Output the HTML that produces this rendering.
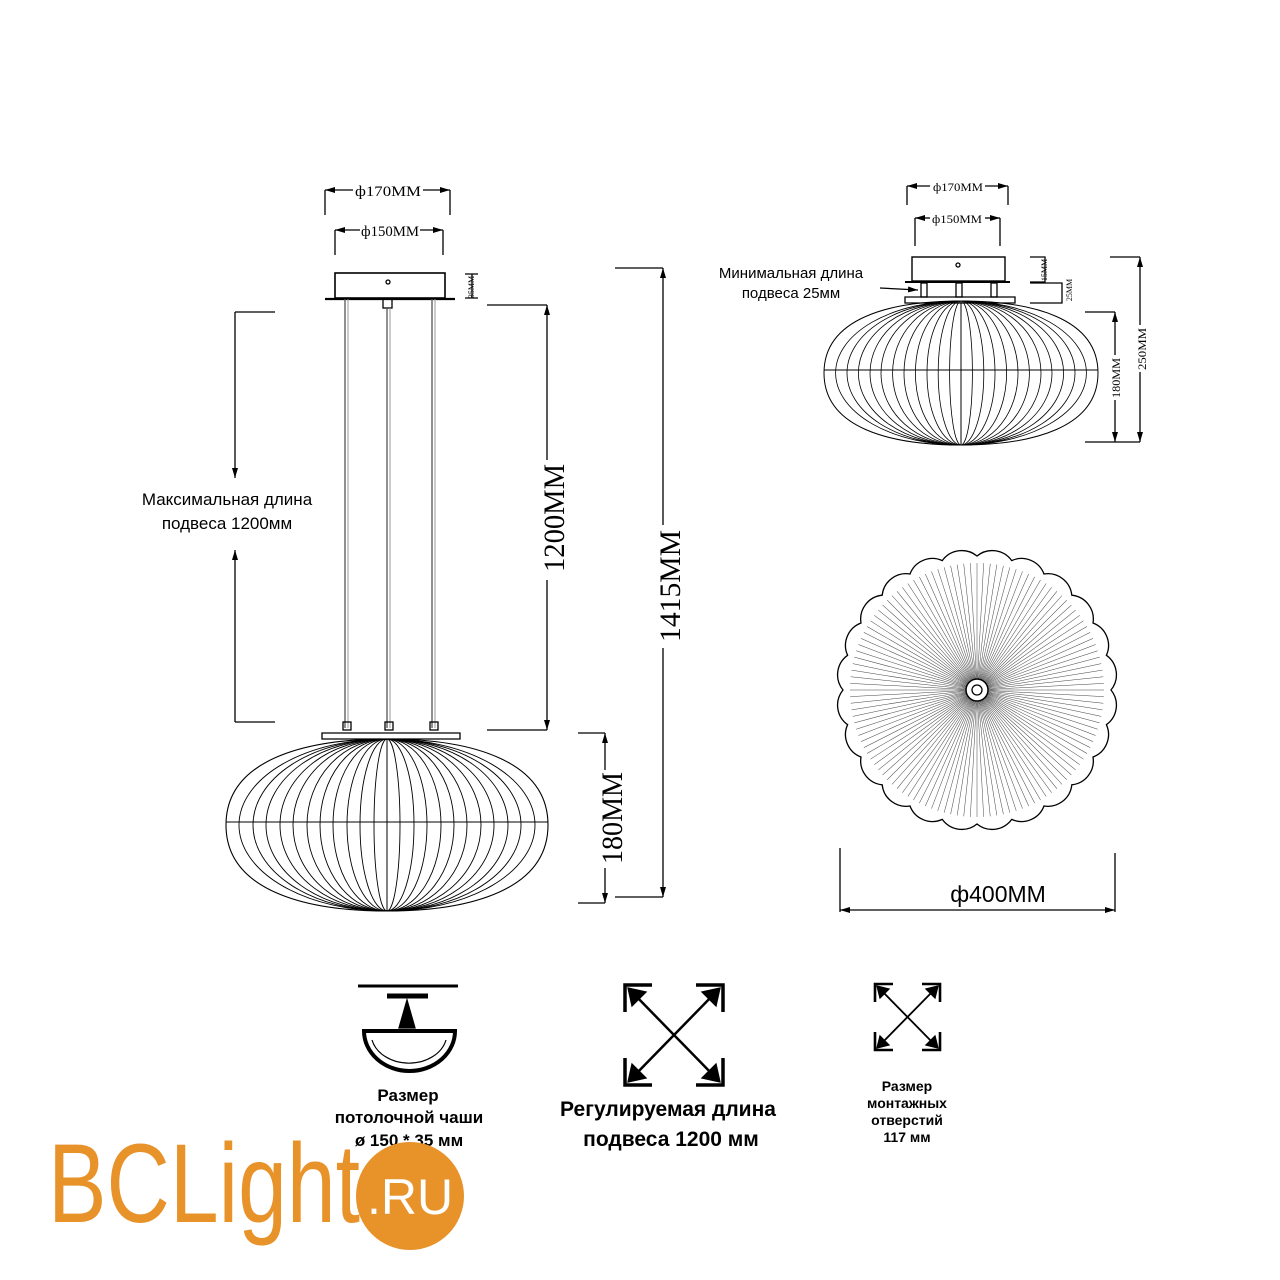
<!DOCTYPE html>
<html><head><meta charset="utf-8"><style>
html,body{margin:0;padding:0;background:#fff}
svg{display:block}
.s{font-family:"Liberation Serif",serif}
.a{font-family:"Liberation Sans",sans-serif}
</style></head><body>
<svg width="1280" height="1280" viewBox="0 0 1280 1280" xmlns="http://www.w3.org/2000/svg" xmlns:xlink="http://www.w3.org/1999/xlink">
<defs>
<marker id="ar" viewBox="0 0 10 6" refX="10" refY="3" markerWidth="10" markerHeight="6" orient="auto-start-reverse" markerUnits="userSpaceOnUse"><path d="M0,0L10,3L0,6z" fill="#000"/></marker>
<g id="r10" stroke="#444" stroke-width="0.5">
<line x1="10" y1="0" x2="127" y2="0"/>
<line x1="10" y1="0" x2="127" y2="0" transform="rotate(3)"/>
<line x1="10" y1="0" x2="127" y2="0" transform="rotate(6)"/>
<line x1="10" y1="0" x2="127" y2="0" transform="rotate(9)"/>
<line x1="10" y1="0" x2="127" y2="0" transform="rotate(12)"/>
<line x1="10" y1="0" x2="127" y2="0" transform="rotate(15)"/>
<line x1="10" y1="0" x2="127" y2="0" transform="rotate(18)"/>
<line x1="10" y1="0" x2="127" y2="0" transform="rotate(21)"/>
<line x1="10" y1="0" x2="127" y2="0" transform="rotate(24)"/>
<line x1="10" y1="0" x2="127" y2="0" transform="rotate(27)"/>
</g>
<g id="ribA" stroke-width="0.9">
<path d="M387,739A13,86 0 0 0 387,911A13,86 0 0 0 387,739"/>
<path d="M387,739A27,86 0 0 0 387,911A27,86 0 0 0 387,739"/>
<path d="M387,739A40,86 0 0 0 387,911A40,86 0 0 0 387,739"/>
<path d="M387,739A54,86 0 0 0 387,911A54,86 0 0 0 387,739"/>
<path d="M387,739A67,86 0 0 0 387,911A67,86 0 0 0 387,739"/>
<path d="M387,739A80,86 0 0 0 387,911A80,86 0 0 0 387,739"/>
<path d="M387,739A94,86 0 0 0 387,911A94,86 0 0 0 387,739"/>
<path d="M387,739A107,86 0 0 0 387,911A107,86 0 0 0 387,739"/>
<path d="M387,739A121,86 0 0 0 387,911A121,86 0 0 0 387,739"/>
<path d="M387,739A134,86 0 0 0 387,911A134,86 0 0 0 387,739"/>
<path d="M387,739A148,86 0 0 0 387,911A148,86 0 0 0 387,739"/>
</g>
<g id="ribB" stroke-width="0.8">
<path d="M961,301A11.4,72 0 0 0 961,445A11.4,72 0 0 0 961,301"/>
<path d="M961,301A22.8,72 0 0 0 961,445A22.8,72 0 0 0 961,301"/>
<path d="M961,301A34,72 0 0 0 961,445A34,72 0 0 0 961,301"/>
<path d="M961,301A45.6,72 0 0 0 961,445A45.6,72 0 0 0 961,301"/>
<path d="M961,301A57,72 0 0 0 961,445A57,72 0 0 0 961,301"/>
<path d="M961,301A68.4,72 0 0 0 961,445A68.4,72 0 0 0 961,301"/>
<path d="M961,301A80,72 0 0 0 961,445A80,72 0 0 0 961,301"/>
<path d="M961,301A91,72 0 0 0 961,445A91,72 0 0 0 961,301"/>
<path d="M961,301A102.6,72 0 0 0 961,445A102.6,72 0 0 0 961,301"/>
<path d="M961,301A114,72 0 0 0 961,445A114,72 0 0 0 961,301"/>
<path d="M961,301A125.4,72 0 0 0 961,445A125.4,72 0 0 0 961,301"/>
</g>
</defs>
<g stroke="#000" fill="none" stroke-width="1.3">
<path d="M325,215V190M450,215V190M335,255V230M443,255V230"/>
<line x1="325" y1="190" x2="353" y2="190" marker-start="url(#ar)"/>
<line x1="423" y1="190" x2="450" y2="190" marker-end="url(#ar)"/>
<line x1="335" y1="230" x2="360" y2="230" marker-start="url(#ar)"/>
<line x1="420" y1="230" x2="443" y2="230" marker-end="url(#ar)"/>
<rect x="335" y="273" width="110" height="25" stroke-width="1.6"/>
<path d="M325,299H455" stroke-width="2.2"/>
<circle cx="388" cy="282" r="2"/>
<rect x="383" y="299" width="9" height="9"/>
<path d="M345,299V728M387,308V728M432,299V728" stroke="#555"/>
<path d="M348,299V728M390,308V728M435,299V728" stroke="#999" stroke-width="1"/>
<rect x="343" y="722" width="8" height="8"/><rect x="385" y="722" width="8" height="8"/><rect x="430" y="722" width="8" height="8"/>
<path d="M322,739H460V733H322z"/>
<path d="M465,274H478M465,298H478M472,274V298"/>
<!-- pendant shade -->
<use xlink:href="#ribA"/>
<path d="M387,739C470,739 548,760 548,825C548,890 470,911 387,911C304,911 226,890 226,825C226,760 304,739 387,739z" stroke-width="1.1"/>
<path d="M226,822H548M387,739V911" stroke-width="1"/>
<!-- left dims -->
<path d="M235,312H275M235,722H275"/>
<line x1="235" y1="312" x2="235" y2="478" marker-end="url(#ar)"/>
<line x1="235" y1="722" x2="235" y2="550" marker-end="url(#ar)"/>
<path d="M487,305H547M487,730H547"/>
<line x1="547" y1="305" x2="547" y2="460" marker-start="url(#ar)"/>
<line x1="547" y1="580" x2="547" y2="730" marker-end="url(#ar)"/>
<path d="M615,268H663M615,897H663"/>
<line x1="663" y1="268" x2="663" y2="525" marker-start="url(#ar)"/>
<line x1="663" y1="648" x2="663" y2="897" marker-end="url(#ar)"/>
<path d="M578,733H605M578,903H605"/>
<line x1="605" y1="733" x2="605" y2="770" marker-start="url(#ar)"/>
<line x1="605" y1="868" x2="605" y2="903" marker-end="url(#ar)"/>
<!-- right top dims -->
<path d="M907,205V186M1008,205V186M915,246V218M1000,246V218"/>
<line x1="907" y1="186" x2="930" y2="186" marker-start="url(#ar)"/>
<line x1="985" y1="186" x2="1008" y2="186" marker-end="url(#ar)"/>
<line x1="915" y1="218" x2="930" y2="218" marker-start="url(#ar)"/>
<line x1="985" y1="218" x2="1000" y2="218" marker-end="url(#ar)"/>
<rect x="912" y="257" width="93" height="24" stroke-width="1.4"/>
<circle cx="958" cy="265" r="2"/>
<path d="M905,282H1010" stroke-width="2"/>
<rect x="921" y="283" width="6" height="14"/><rect x="956" y="283" width="6" height="14"/><rect x="991" y="283" width="6" height="14"/>
<path d="M905,303H1015V297H905z"/>
<line x1="880" y1="288" x2="918" y2="290" marker-end="url(#ar)"/>
<path d="M1030,257H1045V282H1030M1030,283H1062V303H1030"/>
<!-- right shade -->
<use xlink:href="#ribB"/>
<path d="M961,301C1032,301 1098,318 1098,373C1098,428 1032,445 961,445C890,445 824,428 824,373C824,318 890,301 961,301z" stroke-width="1"/>
<path d="M824,370H1098M961,301V445" stroke-width="1"/>
<path d="M1085,312H1115M1085,442H1115M1110,257H1140M1110,442H1140"/>
<line x1="1115" y1="312" x2="1115" y2="355" marker-start="url(#ar)"/>
<line x1="1115" y1="400" x2="1115" y2="442" marker-end="url(#ar)"/>
<line x1="1140" y1="257" x2="1140" y2="325" marker-start="url(#ar)"/>
<line x1="1140" y1="372" x2="1140" y2="442" marker-end="url(#ar)"/>
<!-- flower top view -->
<g transform="translate(977,690)">
<use xlink:href="#r10"/><use xlink:href="#r10" transform="rotate(30)"/><use xlink:href="#r10" transform="rotate(60)"/><use xlink:href="#r10" transform="rotate(90)"/><use xlink:href="#r10" transform="rotate(120)"/><use xlink:href="#r10" transform="rotate(150)"/><use xlink:href="#r10" transform="rotate(180)"/><use xlink:href="#r10" transform="rotate(210)"/><use xlink:href="#r10" transform="rotate(240)"/><use xlink:href="#r10" transform="rotate(270)"/><use xlink:href="#r10" transform="rotate(300)"/><use xlink:href="#r10" transform="rotate(330)"/>
</g>
<path stroke-width="1.3" d="M1111,690A24,24 0 0 1 1106.4,724.7A24,24 0 0 1 1093,757A24,24 0 0 1 1071.8,784.8A24,24 0 0 1 1044,806A24,24 0 0 1 1011.7,819.4A24,24 0 0 1 977,824A24,24 0 0 1 942.3,819.4A24,24 0 0 1 910,806A24,24 0 0 1 882.2,784.8A24,24 0 0 1 861,757A24,24 0 0 1 847.6,724.7A24,24 0 0 1 843,690A24,24 0 0 1 847.6,655.3A24,24 0 0 1 861,623A24,24 0 0 1 882.2,595.2A24,24 0 0 1 910,574A24,24 0 0 1 942.3,560.6A24,24 0 0 1 977,556A24,24 0 0 1 1011.7,560.6A24,24 0 0 1 1044,574A24,24 0 0 1 1071.8,595.2A24,24 0 0 1 1093,623A24,24 0 0 1 1106.4,655.3A24,24 0 0 1 1111,690z"/>
<circle cx="977" cy="690" r="11" fill="#fff" stroke-width="1.5"/><circle cx="977" cy="690" r="5" fill="#fff"/>
<!-- 400 dim -->
<path d="M840,848V912M1115,853V912"/>
<line x1="840" y1="910" x2="1115" y2="910" marker-start="url(#ar)" marker-end="url(#ar)"/>
<!-- icon1 -->
<path d="M358,986H458" stroke-width="3"/>
<path d="M387,996H428" stroke-width="5"/>
<path d="M407,1000L399,1028H415z" fill="#000"/>
<path d="M364,1031H455A45.5,40 0 0 1 364,1031z" stroke-width="4"/>
<path d="M372,1040A38,30 0 0 0 446,1040" stroke-width="1.2"/>
<!-- icon2 -->
<path d="M625,1012V985H652M696,985H723V1012M723,1058V1085H696M652,1085H625V1058" stroke-width="3.5"/>
<path d="M632,992L716,1078M716,992L632,1078" stroke-width="2.5"/>
<path d="M628,988L646,992L632,1006zM720,988L702,992L716,1006zM628,1082L646,1078L632,1064zM720,1082L702,1078L716,1064z" fill="#000"/>
<!-- icon3 -->
<path d="M875,1002V984H893M922,984H940V1002M940,1032V1050H922M893,1050H875V1032" stroke-width="2.6"/>
<path d="M880,989L935,1045M935,989L880,1045" stroke-width="1.8"/>
<path d="M877,986L889,989L880,998zM938,986L926,989L935,998zM877,1048L889,1045L880,1036zM938,1048L926,1045L935,1036z" fill="#000"/>
</g>
<g class="s" font-size="15" text-anchor="middle" fill="#000">
<text x="388" y="196" textLength="66" lengthAdjust="spacingAndGlyphs">ф170MM</text>
<text x="390" y="236" textLength="58" lengthAdjust="spacingAndGlyphs">ф150MM</text>
<text x="958" y="191" font-size="12" textLength="50" lengthAdjust="spacingAndGlyphs">ф170MM</text>
<text x="957" y="223" font-size="12" textLength="50" lengthAdjust="spacingAndGlyphs">ф150MM</text>
<text transform="translate(564,518) rotate(-90)" font-size="30" textLength="108" lengthAdjust="spacingAndGlyphs">1200MM</text>
<text transform="translate(680,586) rotate(-90)" font-size="30" textLength="112" lengthAdjust="spacingAndGlyphs">1415MM</text>
<text transform="translate(622,818) rotate(-90)" font-size="30" textLength="92" lengthAdjust="spacingAndGlyphs">180MM</text>
<text transform="translate(1120,378) rotate(-90)" font-size="12" textLength="40" lengthAdjust="spacingAndGlyphs">180MM</text>
<text transform="translate(1146,349) rotate(-90)" font-size="12" textLength="42" lengthAdjust="spacingAndGlyphs">250MM</text>
<text transform="translate(474,287) rotate(-90)" font-size="8">35MM</text>
<text transform="translate(1047,270) rotate(-90)" font-size="8">15MM</text>
<text transform="translate(1072,290) rotate(-90)" font-size="8">25MM</text>
</g>
<g class="a" text-anchor="middle" fill="#000">
<text x="227" y="505" font-size="17">Максимальная длина</text>
<text x="227" y="529" font-size="17">подвеса 1200мм</text>
<text x="791" y="278" font-size="15">Минимальная длина</text>
<text x="791" y="298" font-size="15">подвеса 25мм</text>
<text x="998" y="902" font-size="23">ф400MM</text>
<g font-weight="bold">
<text x="408" y="1101" font-size="17">Размер</text>
<text x="409" y="1123" font-size="17">потолочной чаши</text>
<text x="409" y="1146" font-size="17">ø 150 * 35 мм</text>
<text x="668" y="1116" font-size="21">Регулируемая длина</text>
<text x="671" y="1146" font-size="21">подвеса 1200 мм</text>
<text x="907" y="1091" font-size="14">Размер</text>
<text x="907" y="1108" font-size="14">монтажных</text>
<text x="907" y="1125" font-size="14">отверстий</text>
<text x="907" y="1142" font-size="14">117 мм</text>
</g>
</g>
<text x="48" y="1222" class="a" font-size="112" fill="#E8922A" textLength="312" lengthAdjust="spacingAndGlyphs">BCLight</text>
<circle cx="410" cy="1196" r="54" fill="#E8922A"/>
<text x="410" y="1214" class="a" font-size="50" fill="#fff" text-anchor="middle">.RU</text>
</svg>
</body></html>
